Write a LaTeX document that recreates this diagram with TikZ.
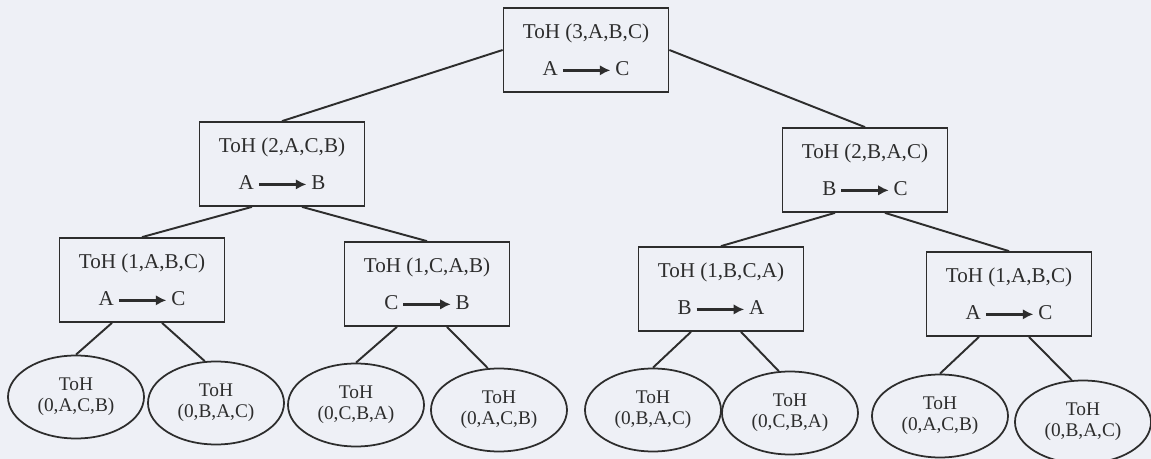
\documentclass[tikz,border=0pt]{standalone}
\usepackage{fontspec}
\setmainfont{Liberation Serif}
\usepackage{tikz}
\usetikzlibrary{shapes.geometric, arrows.meta, positioning}
\definecolor{paper}{RGB}{238, 240, 246}
\definecolor{ink}{RGB}{45, 45, 45}

% one disk move: from -> to
\newcommand{\hmove}[2]{#1\,\tikz[baseline=-0.55ex]\draw[-{Latex[length=6pt,width=6pt]}, line width=1.6pt, ink] (0,0) -- (0.95cm,0);\,#2}

\begin{document}
\begin{tikzpicture}[
    node distance=2cm, on grid,
    call/.style={rectangle, draw=ink, line width=1pt, minimum width=3.3cm,
      minimum height=1.68cm, align=center, text=ink, font=\fontsize{12}{14}\selectfont},
    leaf/.style={ellipse, draw=ink, line width=1pt, minimum width=2.72cm,
      minimum height=1.66cm, inner sep=0pt, align=center, text=ink,
      font=\fontsize{11}{12}\selectfont},
    line/.style={-, line width=1.1pt, color=ink}
  ]
    \fill[paper] (0,0) rectangle (23.02,-9.18);
    \useasboundingbox (0,0) rectangle (23.02,-9.18);

    \node[call] (root) at (11.72,-1.0) {ToH (3,A,B,C)\\[7pt]\hmove{A}{C}};

    \node[call, below left=2.28cm and 6.08cm of root] (l2a) {ToH (2,A,C,B)\\[7pt]\hmove{A}{B}};
    \node[call, below right=2.4cm and 5.58cm of root] (l2b) {ToH (2,B,A,C)\\[7pt]\hmove{B}{C}};

    \node[call, below left=2.32cm and 2.8cm of l2a] (l3a) {ToH (1,A,B,C)\\[7pt]\hmove{A}{C}};
    \node[call, below right=2.4cm and 2.9cm of l2a] (l3b) {ToH (1,C,A,B)\\[7pt]\hmove{C}{B}};
    \node[call, below left=2.38cm and 2.88cm of l2b] (l3c) {ToH (1,B,C,A)\\[7pt]\hmove{B}{A}};
    \node[call, below right=2.48cm and 2.88cm of l2b] (l3d) {ToH (1,A,B,C)\\[7pt]\hmove{A}{C}};

    \node[leaf, below left=2.34cm and 1.32cm of l3a] (e1) {ToH\\(0,A,C,B)};
    \node[leaf, below right=2.46cm and 1.48cm of l3a] (e2) {ToH\\(0,B,A,C)};
    \node[leaf, below left=2.42cm and 1.42cm of l3b] (e3) {ToH\\(0,C,B,A)};
    \node[leaf, below right=2.52cm and 1.44cm of l3b] (e4) {ToH\\(0,A,C,B)};
    \node[leaf, below left=2.42cm and 1.36cm of l3c] (e5) {ToH\\(0,B,A,C)};
    \node[leaf, below right=2.48cm and 1.38cm of l3c] (e6) {ToH\\(0,C,B,A)};
    \node[leaf, below left=2.44cm and 1.38cm of l3d] (e7) {ToH\\(0,A,C,B)};
    \node[leaf, below right=2.56cm and 1.48cm of l3d] (e8) {ToH\\(0,B,A,C)};

    \draw[line] (root.west) -- (l2a.north);
    \draw[line] (root.east) -- (l2b.north);

    \draw[line] (l2a.-125) -- (l3a.north);
    \draw[line] (l2a.-65) -- (l3b.north);
    \draw[line] (l2b.-125) -- (l3c.north);
    \draw[line] (l2b.-65) -- (l3d.north);

    \draw[line] (l3a.-125) -- (e1.north);
    \draw[line] (l3a.-65) -- (e2.105);
    \draw[line] (l3b.-125) -- (e3.north);
    \draw[line] (l3b.-65) -- (e4.105);
    \draw[line] (l3c.-125) -- (e5.north);
    \draw[line] (l3c.-65) -- (e6.105);
    \draw[line] (l3d.-125) -- (e7.north);
    \draw[line] (l3d.-65) -- (e8.105);
  \end{tikzpicture}
\end{document}
